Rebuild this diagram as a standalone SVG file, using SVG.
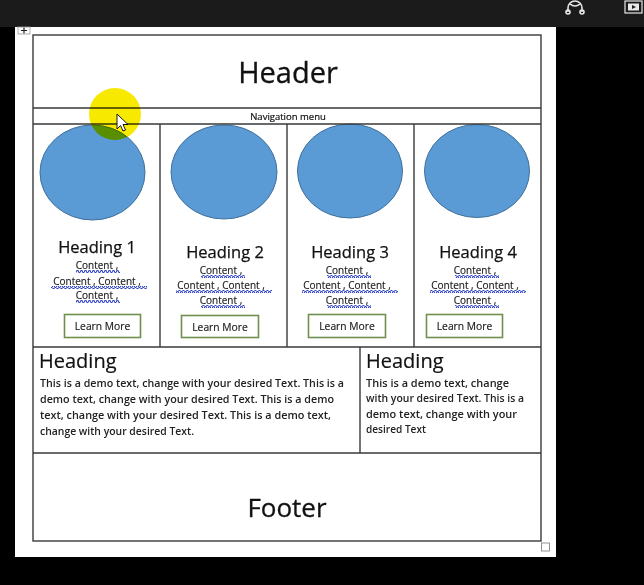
<svg xmlns="http://www.w3.org/2000/svg" width="644" height="585" viewBox="0 0 644 585">
<defs>
<style>
.ln{stroke:#3a3a3a;stroke-width:1.4;fill:none}
.t{font-family:"Open Sans","Liberation Sans",sans-serif;fill:#111}
.circ{fill:#5b9bd5;stroke:#41719c;stroke-width:1}
.btn{fill:#fff;stroke:#6f8f4f;stroke-width:1.6}
.h{font-size:16.5px;text-anchor:middle;stroke:#111;stroke-width:0.25}
.c{font-size:10px;text-anchor:middle;fill:#1a1a1a;stroke:#1a1a1a;stroke-width:0.15}
.b{font-size:10.3px;text-anchor:middle;fill:#1a1a1a;stroke:#1a1a1a;stroke-width:0.15}
.body{font-size:10.6px;font-weight:600;fill:#222}
.sq{fill:url(#wave)}
</style>
<pattern id="wave" width="4" height="3" patternUnits="userSpaceOnUse">
<polyline points="0,2.5 1,0.5 2,0.5 3,2.5 4,2.5" fill="none" stroke="#3445c8" stroke-width="1.1"/>
</pattern>
</defs>
<rect width="644" height="585" fill="#000"/>
<rect width="644" height="27" fill="#1b1b1b"/>
<g id="topicons" fill="none" stroke="#e8e8e8" stroke-width="1.6">
<path d="M568,12 V8 a7,7 0 0 1 14,0 V12"/>
<circle cx="568" cy="12" r="2"/><circle cx="582" cy="12" r="2"/>
<path d="M570,4 q5,4 10,0"/>
<rect x="625" y="1" width="17" height="12" stroke-width="1.2"/>
<rect x="628" y="3.5" width="11" height="7" fill="#e8e8e8" stroke="none"/>
<path d="M632,5 L636,7 L632,9 Z" fill="#1b1b1b" stroke="none"/>
</g>
<rect x="15" y="27" width="541" height="530" fill="#fff"/>
<g id="handle">
<rect x="18" y="27" width="12" height="7" fill="#fff" stroke="#999" stroke-width="0.8"/>
<path d="M24,27.5 V33.5 M21,30.5 H27" stroke="#222" stroke-width="1.2"/>
</g>
<g id="header">
<text class="t" x="288" y="83" font-size="29" text-anchor="middle" stroke="#111" stroke-width="0.3">Header</text>
</g>
<g id="nav">
<text class="t" x="288" y="119.5" font-size="9.5" text-anchor="middle" stroke="#111" stroke-width="0.2">Navigation  menu</text>
</g>
<g id="col1">
<ellipse class="circ" cx="92.5" cy="172.5" rx="52.5" ry="47.5"/>
<text class="t h" x="97" y="253">Heading 1</text>
<text class="t c" x="97" y="269">Content ,</text>
<text class="t c" x="97" y="285">Content , Content ,</text>
<text class="t c" x="97" y="299">Content ,</text>
<rect class="sq" x="76" y="270" width="44" height="3"/>
<rect class="sq" x="51" y="286" width="96" height="3"/>
<rect class="sq" x="76" y="300" width="44" height="3"/>
<rect class="btn" x="64.5" y="314.5" width="76" height="23"/>
<text class="t b" x="102.5" y="330">Learn More</text>
</g>
<g id="col2">
<ellipse class="circ" cx="224" cy="172" rx="53" ry="47"/>
<text class="t h" x="225" y="258">Heading 2</text>
<text class="t c" x="221" y="274">Content ,</text>
<text class="t c" x="221" y="289">Content , Content ,</text>
<text class="t c" x="221" y="304">Content ,</text>
<rect class="sq" x="201" y="275" width="44" height="3"/>
<rect class="sq" x="176" y="290" width="96" height="3"/>
<rect class="sq" x="201" y="305" width="44" height="3"/>
<rect class="btn" x="181.5" y="315.5" width="77" height="22"/>
<text class="t b" x="220" y="330.5">Learn More</text>
</g>
<g id="col3">
<ellipse class="circ" cx="350" cy="171" rx="52.5" ry="47"/>
<text class="t h" x="350" y="258">Heading 3</text>
<text class="t c" x="347" y="274">Content ,</text>
<text class="t c" x="347" y="289">Content , Content ,</text>
<text class="t c" x="347" y="304">Content ,</text>
<rect class="sq" x="327" y="275" width="44" height="3"/>
<rect class="sq" x="302" y="290" width="96" height="3"/>
<rect class="sq" x="327" y="305" width="44" height="3"/>
<rect class="btn" x="308.5" y="314.5" width="77" height="23"/>
<text class="t b" x="347" y="330">Learn More</text>
</g>
<g id="col4">
<ellipse class="circ" cx="477" cy="171" rx="52.5" ry="46.5"/>
<text class="t h" x="478" y="258">Heading 4</text>
<text class="t c" x="475" y="274">Content ,</text>
<text class="t c" x="475" y="289">Content , Content ,</text>
<text class="t c" x="475" y="304">Content ,</text>
<rect class="sq" x="455" y="275" width="44" height="3"/>
<rect class="sq" x="430" y="290" width="96" height="3"/>
<rect class="sq" x="455" y="305" width="44" height="3"/>
<rect class="btn" x="426.5" y="314.5" width="76" height="23"/>
<text class="t b" x="464.5" y="330">Learn More</text>
</g>
<g id="main-left">
<text class="t" x="39" y="368" font-size="20" stroke="#111" stroke-width="0.2">Heading</text>
<text class="t body" x="40" y="387" textLength="304" lengthAdjust="spacingAndGlyphs">This is a demo text, change with your desired Text. This is a</text>
<text class="t body" x="40" y="403" textLength="294" lengthAdjust="spacingAndGlyphs">demo text, change with your desired Text. This is a demo</text>
<text class="t body" x="40" y="419" textLength="291" lengthAdjust="spacingAndGlyphs">text, change with your desired Text. This is a demo text,</text>
<text class="t body" x="40" y="435" textLength="154" lengthAdjust="spacingAndGlyphs">change with your desired Text.</text>
</g>
<g id="main-right">
<text class="t" x="366" y="368" font-size="20" stroke="#111" stroke-width="0.2">Heading</text>
<text class="t body" x="366" y="387" textLength="143" lengthAdjust="spacingAndGlyphs">This is a demo text, change</text>
<text class="t body" x="366" y="402" textLength="158" lengthAdjust="spacingAndGlyphs">with your desired Text. This is a</text>
<text class="t body" x="366" y="418" textLength="151" lengthAdjust="spacingAndGlyphs">demo text, change with your</text>
<text class="t body" x="366" y="433" textLength="60" lengthAdjust="spacingAndGlyphs">desired Text</text>
</g>
<g id="footer">
<text class="t" x="287" y="517" font-size="26" text-anchor="middle" stroke="#111" stroke-width="0.3">Footer</text>
</g>
<g id="connectors">
<rect class="ln" x="33" y="35" width="508" height="506"/>
<path class="ln" d="M33,108 H541 M33,124 H541 M160,124 V347 M287,124 V347 M414,124 V347 M33,347 H541 M360,347 V453 M33,453 H541"/>
</g>
<rect x="541.5" y="543" width="8" height="8" fill="#fff" stroke="#777" stroke-width="0.8"/>
<g id="pointer">
<circle cx="115" cy="114" r="26" fill="#f7ea00" style="mix-blend-mode:multiply"/>
<path d="M117,114 V129 L120.5,125.5 L123,131 L125.5,130 L123,124.5 L128,124.5 Z" fill="#fff" stroke="#000" stroke-width="0.9" stroke-linejoin="round"/>
</g>
</svg>
